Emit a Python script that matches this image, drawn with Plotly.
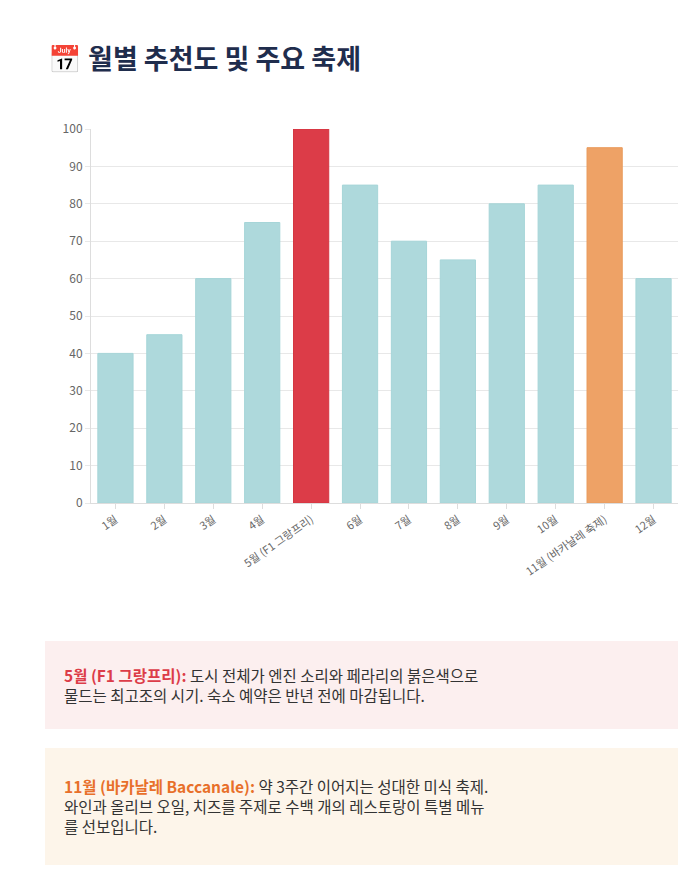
import plotly.graph_objects as go

months = ["1월","2월","3월","4월","5월 (F1 그랑프리)","6월","7월","8월","9월","10월","11월 (바카날레 축제)","12월"]
scores = [40,45,60,75,100,85,70,65,80,85,95,60]
colors = ["#aed9dc"]*12
colors[4] = "#dc3c48"
colors[10] = "#eea266"
borders = ["#a6d5d8"]*12
borders[4] = "#d43541"
borders[10] = "#e99b5c"

W, H = 697, 877
L, R, T, B = 83, 670, 121, 495
fig = go.Figure(go.Bar(x=months, y=scores, marker=dict(color=colors, line=dict(color=borders, width=1)), width=0.72))
FONT = "Noto Sans CJK KR"
fig.update_layout(
    width=W, height=H, paper_bgcolor="white", plot_bgcolor="white",
    margin=dict(l=L, r=W-R, t=T, b=H-B, autoexpand=False),
    showlegend=False, font=dict(family=FONT, color="#666"),
    xaxis=dict(tickangle=-35, tickfont=dict(size=11, color="#666"), showline=True, linecolor="#ddd", ticks="outside", ticklen=5, tickcolor="#ddd", showgrid=False),
    yaxis=dict(range=[0,100], dtick=10, tickfont=dict(size=12, color="#666"), gridcolor="#e8e8e8", zeroline=False, showline=True, linecolor="#ddd", ticks="outside", ticklen=5, tickcolor="#e8e8e8"),
)
def py(y): return (B - y) / (B - T)
def px(x): return (x - L) / (R - L)
fig.add_annotation(xref="paper", yref="paper", x=px(38), y=py(50), xanchor="left", yanchor="middle", showarrow=False,
                   text="📅 <b>월별 추천도 및 주요 축제</b>", font=dict(size=27, color="#1f2d4d", family=FONT))
fig.add_shape(type="rect", xref="paper", yref="paper", x0=px(37), x1=px(670), y0=py(721), y1=py(633), fillcolor="#fcefef", line=dict(width=0), layer="below")
fig.add_shape(type="rect", xref="paper", yref="paper", x0=px(37), x1=px(670), y0=py(857), y1=py(740), fillcolor="#fdf5ea", line=dict(width=0), layer="below")
fig.add_annotation(xref="paper", yref="paper", x=px(54), y=py(677), xanchor="left", yanchor="middle", showarrow=False, align="left",
                   text="<b><span style='color:#dc3c48'>5월 (F1 그랑프리):</span></b> 도시 전체가 엔진 소리와 페라리의 붉은색으로<br>물드는 최고조의 시기. 숙소 예약은 반년 전에 마감됩니다.",
                   font=dict(size=15.5, color="#333", family=FONT))
fig.add_annotation(xref="paper", yref="paper", x=px(54), y=py(798), xanchor="left", yanchor="middle", showarrow=False, align="left",
                   text="<b><span style='color:#e8702a'>11월 (바카날레 Baccanale):</span></b> 약 3주간 이어지는 성대한 미식 축제.<br>와인과 올리브 오일, 치즈를 주제로 수백 개의 레스토랑이 특별 메뉴<br>를 선보입니다.",
                   font=dict(size=15.5, color="#333", family=FONT))
fig.write_html("out.html")
